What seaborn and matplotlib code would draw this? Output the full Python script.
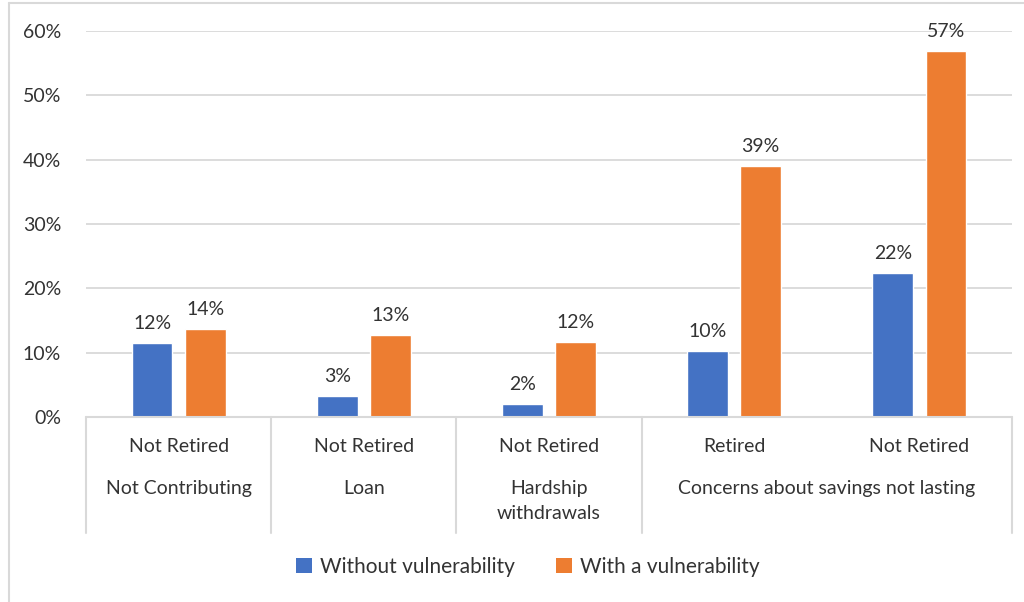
import numpy as np
import pandas as pd
import seaborn as sns
import matplotlib.pyplot as plt
from matplotlib.lines import Line2D
from matplotlib.patches import Patch

# chart data
inner_labels = ['Not Retired', 'Not Retired', 'Not Retired', 'Retired', 'Not Retired']
outer_labels = ['Not Contributing', 'Loan', 'Hardship\nwithdrawals', 'Concerns about savings not lasting']
outer_spans = [1, 1, 1, 2]
series = ['Without vulnerability', 'With a vulnerability']
without_vals = [0.115, 0.033, 0.020, 0.103, 0.224]
with_vals = [0.137, 0.127, 0.117, 0.390, 0.569]
colors = ['#4472C4', '#ED7D31']
text_col = '#333333'
fs = 14

keys = ['c%d' % i for i in range(len(inner_labels))]
df = pd.DataFrame({
    'cat': keys * 2,
    'series': [series[0]] * 5 + [series[1]] * 5,
    'value': without_vals + with_vals,
})

sns.set_theme(style='white')
plt.rcParams['font.family'] = ['Lato', 'DejaVu Sans']

W, H = 1024, 602
fig = plt.figure(figsize=(W / 100, H / 100), dpi=100)
x0, x1, y0, y1 = 86, 1012, 417, 31
ax = fig.add_axes([x0 / W, 1 - y0 / H, (x1 - x0) / W, (y0 - y1) / H])

sns.barplot(data=df, x='cat', y='value', hue='series', order=keys, hue_order=series,
            palette=colors, width=0.573, gap=0.23, saturation=1, ax=ax, legend=False)

ax.set_ylim(0, 0.6)
ax.set_xlim(-0.5, len(keys) - 0.5)
ax.set_yticks(np.arange(0, 0.61, 0.1))
ax.set_yticklabels(['%d%%' % round(v * 100) for v in np.arange(0, 0.61, 0.1)],
                   fontsize=fs, color=text_col)
ax.tick_params(axis='y', length=0, pad=18)
ax.grid(axis='y', color='#D9D9D9', linewidth=1.3)
ax.set_axisbelow(True)
for s in ax.spines.values():
    s.set_visible(False)
ax.set_xticks([])
ax.set_xlabel('')
ax.set_ylabel('')

# value labels
for cont in ax.containers:
    ax.bar_label(cont, labels=['%d%%' % round(v * 100) for v in cont.datavalues],
                 padding=8, fontsize=fs, color=text_col, clip_on=False)

# multi-level category axis
def fx(px):
    return px / W

def fy(py):
    return 1 - py / H

grp = (x1 - x0) / len(keys)
line_kw = dict(color='#D9D9D9', linewidth=1.5, transform=fig.transFigure)
fig.add_artist(Line2D([fx(x0), fx(x1)], [fy(y0), fy(y0)], **line_kw))
pos = 0
bounds = [0]
for sp in outer_spans:
    pos += sp
    bounds.append(pos)
for b in bounds:
    xp = x0 + b * grp
    fig.add_artist(Line2D([fx(xp), fx(xp)], [fy(y0), fy(533)], **line_kw))

for i, lab in enumerate(inner_labels):
    fig.text(fx(x0 + (i + 0.5) * grp), fy(446), lab, ha='center', va='center',
             fontsize=fs, color=text_col)
for i, lab in enumerate(outer_labels):
    cx = x0 + (bounds[i] + outer_spans[i] / 2) * grp
    fig.text(fx(cx), fy(480), lab, ha='center', va='top', fontsize=fs,
             color=text_col, linespacing=1.55)

# outer chart frame (left and top edges visible)
fig.add_artist(Line2D([fx(9), fx(9)], [fy(3), 0], **line_kw))
fig.add_artist(Line2D([fx(9), 1], [fy(3), fy(3)], **line_kw))

handles = [Patch(facecolor=c, edgecolor='none') for c in colors]
fig.legend(handles, series, loc='center', bbox_to_anchor=(fx(528), fy(567)), ncol=2,
           frameon=False, fontsize=fs + 1, labelcolor=text_col, handlelength=0.75,
           handleheight=0.75, handletextpad=0.4, columnspacing=2.0)

fig.savefig('out.png', dpi=100)
